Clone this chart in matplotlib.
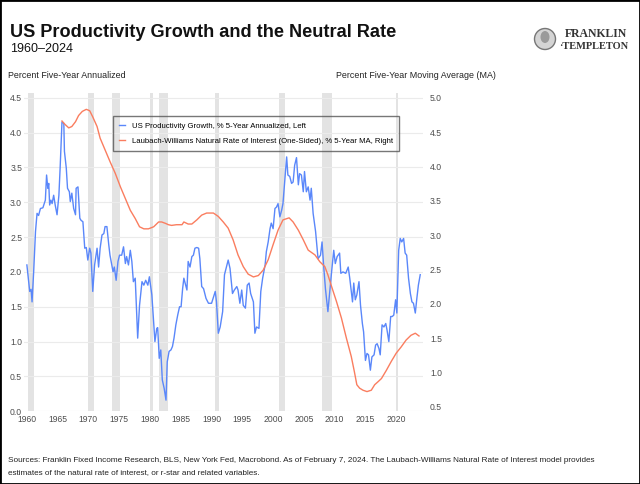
import matplotlib
matplotlib.use("Agg")
import matplotlib.pyplot as plt
from matplotlib import font_manager
from matplotlib.patches import Rectangle, Ellipse

# ---------------- data ----------------
blue_t = [1960.0, 1960.3, 1960.46, 1960.68, 1960.84, 1961.1, 1961.4, 1961.65, 1961.9, 1962.2,
          1962.6, 1963.0, 1963.2, 1963.4, 1963.55, 1963.7, 1963.9, 1964.1, 1964.35, 1964.6,
          1964.9, 1965.2, 1965.4, 1965.7, 1966.0, 1966.1, 1966.4, 1966.6, 1966.9, 1967.05,
          1967.3, 1967.6, 1967.9, 1968.0, 1968.3, 1968.6, 1968.8, 1969.1, 1969.4, 1969.65,
          1969.9, 1970.2, 1970.4, 1970.7, 1971.0, 1971.4, 1971.65, 1971.9, 1972.2, 1972.5,
          1972.7, 1973.0, 1973.3, 1973.5, 1974.0, 1974.2, 1974.5, 1974.8, 1975.05, 1975.4,
          1975.7, 1976.0, 1976.2, 1976.5, 1976.8, 1977.05, 1977.3, 1977.6, 1978.0, 1978.3,
          1978.7, 1979.0, 1979.3, 1979.65, 1979.9, 1980.3, 1980.6, 1980.8, 1981.1, 1981.25,
          1981.5, 1981.75, 1982.0, 1982.3, 1982.6, 1982.8, 1983.1, 1983.4, 1983.65, 1983.9,
          1984.2, 1984.5, 1984.8, 1985.05, 1985.3, 1985.5, 1985.8, 1986.0, 1986.2, 1986.5,
          1986.8, 1987.05, 1987.3, 1987.6, 1987.9, 1988.1, 1988.4, 1988.7, 1989.1, 1989.5,
          1990.0, 1990.6, 1990.8, 1991.1, 1991.4, 1991.8, 1992.1, 1992.3, 1992.7, 1993.0,
          1993.4, 1993.7, 1994.1, 1994.3, 1994.6, 1994.9, 1995.15, 1995.5, 1995.8, 1996.1,
          1996.35, 1996.8, 1997.04, 1997.3, 1997.7, 1998.0, 1998.3, 1998.7, 1998.9, 1999.2,
          1999.5, 1999.7, 2000.0, 2000.3, 2000.55, 2000.8, 2001.1, 2001.4, 2001.6, 2001.9,
          2002.2, 2002.4, 2002.7, 2003.0, 2003.25, 2003.5, 2003.8, 2004.1, 2004.3, 2004.6,
          2004.9, 2005.1, 2005.4, 2005.7, 2006.0, 2006.2, 2006.5, 2006.9, 2007.3, 2007.7,
          2007.95, 2008.2, 2008.5, 2008.9, 2009.2, 2009.5, 2009.85, 2010.1, 2010.4, 2010.8,
          2011.0, 2011.35, 2011.8, 2012.2, 2012.45, 2012.9, 2013.1, 2013.35, 2013.6, 2013.95,
          2014.2, 2014.5, 2014.7, 2015.0, 2015.25, 2015.5, 2015.8, 2016.05, 2016.4, 2016.65,
          2016.9, 2017.2, 2017.4, 2017.7, 2018.0, 2018.3, 2018.5, 2018.8, 2019.1, 2019.35,
          2019.6, 2019.9, 2020.1, 2020.4, 2020.65, 2020.9, 2021.2, 2021.45, 2021.7, 2022.0,
          2022.3, 2022.55, 2022.8, 2023.1, 2023.35, 2023.6, 2023.9]
blue_v = [2.10, 1.86, 1.72, 1.75, 1.57, 2.00, 2.58, 2.84, 2.81, 2.91,
          2.92, 3.03, 3.39, 3.20, 3.27, 2.96, 3.03, 2.98, 3.10, 2.96,
          2.82, 3.10, 3.49, 4.15, 4.13, 3.73, 3.49, 3.20, 3.15, 3.01,
          3.13, 2.91, 2.82, 3.20, 3.22, 2.77, 2.74, 2.72, 2.34, 2.35,
          2.17, 2.34, 2.27, 1.72, 2.10, 2.34, 2.07, 2.34, 2.53, 2.55,
          2.65, 2.65, 2.39, 2.24, 2.00, 2.07, 1.88, 2.15, 2.24, 2.24,
          2.36, 2.12, 2.22, 2.10, 2.31, 2.15, 1.86, 1.91, 1.05, 1.52,
          1.86, 1.81, 1.88, 1.81, 1.93, 1.67, 1.28, 1.00, 1.19, 1.20,
          0.76, 0.88, 0.45, 0.33, 0.16, 0.71, 0.86, 0.88, 0.93, 1.05,
          1.24, 1.38, 1.50, 1.50, 1.76, 1.91, 1.81, 1.74, 2.15, 2.07,
          2.22, 2.24, 2.34, 2.35, 2.34, 2.19, 1.79, 1.76, 1.62, 1.55,
          1.55, 1.72, 1.57, 1.12, 1.21, 1.43, 1.96, 2.03, 2.17, 2.05,
          1.69, 1.74, 1.79, 1.74, 1.55, 1.74, 1.52, 1.48, 1.81, 1.84,
          1.69, 1.57, 1.12, 1.21, 1.19, 1.72, 1.91, 2.10, 2.29, 2.43,
          2.62, 2.70, 2.62, 2.91, 2.93, 2.98, 2.79, 2.89, 2.98, 3.32,
          3.65, 3.39, 3.37, 3.27, 3.29, 3.53, 3.64, 3.25, 3.41, 3.39,
          3.15, 3.44, 3.15, 3.22, 3.03, 3.20, 2.84, 2.58, 2.19, 2.24,
          2.43, 2.10, 1.76, 1.43, 1.72, 2.00, 2.31, 2.12, 2.22, 2.27,
          1.98, 2.00, 1.98, 2.07, 1.91, 1.57, 1.84, 1.60, 1.67, 1.86,
          1.52, 1.26, 1.14, 0.73, 0.83, 0.81, 0.59, 0.78, 0.81, 0.95,
          0.97, 0.90, 0.81, 1.24, 1.21, 1.26, 1.17, 1.00, 1.36, 1.36,
          1.38, 1.60, 1.41, 2.31, 2.48, 2.43, 2.48, 2.27, 2.24, 1.91,
          1.69, 1.57, 1.55, 1.41, 1.62, 1.81, 1.96]

red_t = [1965.7, 1966.2, 1966.8, 1967.3, 1967.9, 1968.4, 1969.0, 1969.65, 1970.2, 1970.7,
         1971.4, 1971.9, 1972.7, 1973.5, 1974.35, 1975.2, 1976.0, 1976.8, 1977.6, 1978.3,
         1979.0, 1979.75, 1980.6, 1981.4, 1981.9, 1982.5, 1983.0, 1983.5, 1984.3, 1985.2,
         1985.5, 1986.2, 1986.8, 1987.6, 1988.4, 1989.2, 1990.3, 1991.1, 1991.9, 1992.7,
         1993.5, 1994.3, 1995.15, 1995.95, 1996.8, 1997.6, 1998.4, 1999.2, 2000.0, 2000.8,
         2001.6, 2002.6, 2003.25, 2004.1, 2004.9, 2005.7, 2006.8, 2007.6, 2008.4, 2008.9,
         2009.5, 2010.3, 2011.1, 2011.9, 2012.7, 2013.2, 2013.6, 2014.05, 2014.6, 2015.25,
         2015.95, 2016.5, 2017.0, 2017.6, 2018.4, 2019.2, 2020.0, 2020.8, 2021.6, 2022.4,
         2023.1, 2023.7]
red_v = [4.66, 4.61, 4.56, 4.58, 4.65, 4.74, 4.80, 4.83, 4.81, 4.72,
         4.58, 4.41, 4.24, 4.07, 3.90, 3.70, 3.53, 3.36, 3.24, 3.12,
         3.09, 3.09, 3.12, 3.19, 3.19, 3.17, 3.15, 3.14, 3.15, 3.15,
         3.19, 3.16, 3.16, 3.22, 3.29, 3.32, 3.32, 3.27, 3.19, 3.10,
         2.93, 2.71, 2.54, 2.43, 2.39, 2.41, 2.49, 2.64, 2.86, 3.07,
         3.22, 3.25, 3.19, 3.07, 2.93, 2.78, 2.71, 2.61, 2.54, 2.42,
         2.25, 2.03, 1.79, 1.50, 1.23, 1.01, 0.82, 0.77, 0.74, 0.72,
         0.74, 0.82, 0.86, 0.91, 1.03, 1.16, 1.28, 1.37, 1.47, 1.54,
         1.57, 1.53]

recession_start = [1960.25, 1969.9, 1973.85, 1980.0, 1981.5, 1990.55, 2001.0, 2007.9, 2020.0]
recession_end = [1961.1, 1970.9, 1975.2, 1980.55, 1982.9, 1991.2, 2001.9, 2009.5, 2020.3]

x_ticks = [1960, 1965, 1970, 1975, 1980, 1985, 1990, 1995, 2000, 2005, 2010, 2015, 2020]
left_ticks = [0.0, 0.5, 1.0, 1.5, 2.0, 2.5, 3.0, 3.5, 4.0, 4.5]
right_ticks = [0.5, 1.0, 1.5, 2.0, 2.5, 3.0, 3.5, 4.0, 4.5, 5.0]

blue_label = "US Productivity Growth, % 5-Year Annualized, Left"
red_label = "Laubach-Williams Natural Rate of Interest (One-Sided), % 5-Year MA, Right"

# ---------------- figure ----------------
plt.rcParams['font.family'] = ['Liberation Sans', 'DejaVu Sans']
installed = {f.name for f in font_manager.fontManager.ttflist}
footer_family = (['Liberation Sans Narrow', 'Liberation Sans', 'DejaVu Sans']
                 if 'Liberation Sans Narrow' in installed else ['Liberation Sans', 'DejaVu Sans'])

W, H = 640, 484
fig = plt.figure(figsize=(W / 100, H / 100), dpi=100)
renderer = fig.canvas.get_renderer()

def fx(px):
    return px / W

def fy(py):
    return 1 - py / H

def fit_width(txt, target_px):
    w = txt.get_window_extent(renderer=renderer).width
    txt.set_fontsize(txt.get_fontsize() * target_px / w)

ax_l, ax_r, ax_t, ax_b = 23.5, 423, 93, 411.3
ax = fig.add_axes([fx(ax_l), fy(ax_b), fx(ax_r - ax_l), (ax_b - ax_t) / H])
ax2 = ax.twinx()

BLUE = '#5A87FA'
RED = '#FA7D5F'
TICKC = '#4d4d4d'

for s, e in zip(recession_start, recession_end):
    ax.axvspan(s, e, color='#E3E3E3', lw=0, zorder=0)

for v in left_ticks:
    ax.axhline(v, color='#EBEBEB', lw=0.8, zorder=0.5)

lb, = ax.plot(blue_t, blue_v, color=BLUE, lw=1.0, zorder=3)
lr, = ax2.plot(red_t, red_v, color=RED, lw=1.0, zorder=3)

ax.set_xlim(1959.45, 2024.35)
ax.set_ylim(0.0, 4.567)
ax2.set_ylim(0.433, 5.068)

ax.set_xticks(x_ticks)
ax.set_xticklabels([str(t) for t in x_ticks])
ax.set_yticks(left_ticks)
ax.set_yticklabels([f"{v:.1f}" for v in left_ticks])
ax2.set_yticks(right_ticks)
ax2.set_yticklabels([f"{v:.1f}" for v in right_ticks])

for a in (ax, ax2):
    for sp in a.spines.values():
        sp.set_visible(False)
    a.patch.set_visible(False)
ax.tick_params(axis='both', length=0, labelsize=6.2, colors=TICKC)
ax.tick_params(axis='x', pad=3)
ax.tick_params(axis='y', pad=1)
ax2.tick_params(axis='y', length=0, labelsize=6.2, colors=TICKC, pad=5)

leg = ax.legend([lb, lr], [blue_label, red_label], loc='upper left',
                bbox_to_anchor=((112.5 - ax_l) / (ax_r - ax_l), 1 - (116.5 - ax_t) / (ax_b - ax_t)),
                fontsize=5.6, frameon=True, fancybox=False, handlelength=0.75,
                handletextpad=0.9, borderpad=0.8, labelspacing=0.9, borderaxespad=0)
leg.get_frame().set_edgecolor('#555555')
leg.get_frame().set_linewidth(1.0)
leg.get_frame().set_facecolor('none')
leg.set_zorder(5)

# ---------------- texts ----------------
t = fig.text(fx(10), fy(37), "US Productivity Growth and the Neutral Rate",
             fontsize=13, fontweight='bold', color='#111111', va='baseline', ha='left')
fit_width(t, 383)
fig.text(fx(10), fy(52), "1960\u20132024", fontsize=9, color='#111111', va='baseline', ha='left')
fig.text(fx(8), fy(78), "Percent Five-Year Annualized", fontsize=6.4, color='#222222',
         va='baseline', ha='left')
fig.text(fx(336), fy(78), "Percent Five-Year Moving Average (MA)", fontsize=6.4, color='#222222',
         va='baseline', ha='left')

f1 = fig.text(fx(8), fy(462),
              "Sources: Franklin Fixed Income Research, BLS, New York Fed, Macrobond. As of February 7, 2024. "
              "The Laubach-Williams Natural Rate of Interest model provides",
              fontsize=6.5, color='#222222', va='baseline', ha='left', family=footer_family)
fit_width(f1, 584)
fig.text(fx(8), fy(474), "estimates of the natural rate of interest, or r-star and related variables.",
         fontsize=f1.get_fontsize(), color='#222222', va='baseline', ha='left', family=footer_family)

# logo
serif = ['Liberation Serif', 'DejaVu Serif']
l1 = fig.text(fx(565), fy(37), "FRANKLIN", fontsize=8.5, fontweight='bold', color='#333333',
              family=serif, va='baseline', ha='left')
fit_width(l1, 62)
l2 = fig.text(fx(559), fy(49), "\u00b7TEMPLETON", fontsize=8.5, fontweight='bold', color='#333333',
              family=serif, va='baseline', ha='left')
fit_width(l2, 69)
fig.add_artist(Ellipse((fx(545), fy(39)), fx(21), 21 / H, facecolor='#D4D4D4',
                       edgecolor='#777777', lw=1.0, transform=fig.transFigure))
fig.add_artist(Ellipse((fx(545), fy(37)), fx(9), 12 / H, facecolor='#9A9A9A',
                       edgecolor='none', transform=fig.transFigure))

fig.add_artist(Rectangle((0, 0), 1, 1, transform=fig.transFigure, fill=False,
                         edgecolor='#000000', lw=2.0))

fig.savefig("out.png", dpi=100)
